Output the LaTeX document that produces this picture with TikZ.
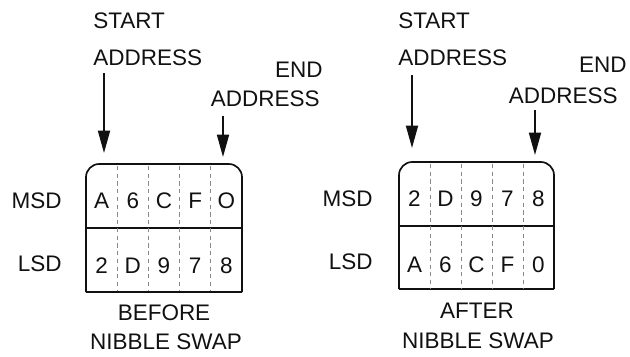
\documentclass[tikz,border=0pt]{standalone}
\usepackage{fontspec}
\setmainfont{Liberation Sans}
\usetikzlibrary{arrows.meta}
\definecolor{ink}{HTML}{111111}
\definecolor{faint}{HTML}{8A8A8A}

\begin{document}
\begin{tikzpicture}[x=0.25mm, y=-0.25mm,
    every node/.style={font=\fontsize{16}{19}\selectfont, text=ink, inner sep=0pt},
    boxline/.style={ink, line width=1.2pt},
    divider/.style={faint, line width=0.45pt, dash pattern=on 3pt off 2.5pt},
    addr/.style={ink, line width=1.3pt, -{Triangle[length=5.6mm, width=3mm]}}]
  \useasboundingbox (0,0) rectangle (630,356);

  % before: labels
  \node[anchor=base west] (bstart) at (93,28) {START};
  \node[anchor=base west] (bstartaddr) at (93,65) {ADDRESS};
  \node[anchor=base east] (bend) at (323,77) {END};
  \node[anchor=base east] (bendaddr) at (320,106) {ADDRESS};
  \coordinate (bs0) at (104,73);  \coordinate (bs1) at (104,153);
  \coordinate (be0) at (223,116); \coordinate (be1) at (223,157);
  \draw[addr] (bs0) -- (bs1);
  \draw[addr] (be0) -- (be1);
  \node[anchor=base east] (bmsd) at (62,208) {MSD};
  \node[anchor=base east] (blsd) at (62,271) {LSD};
  % before: box
  \draw[boxline, rounded corners=3.3mm] (86,292) -- (86,164) -- (242,164) -- (242,292);
  \draw[boxline] (86,292) -- (242,292);
  \draw[boxline] (86,228) -- (242,228);
  \foreach \k in {1,...,4}
    \draw[divider] ({86+31.2*\k},166) -- ({86+31.2*\k},291);
  \foreach \d [count=\i] in {A,6,C,F,O}
    \node[anchor=base] (bm\i) at ({86+31.2*\i-15.6},208) {\d};
  \foreach \d [count=\i] in {2,D,9,7,8}
    \node[anchor=base] (bl\i) at ({86+31.2*\i-15.6},273) {\d};
  \node[anchor=base] (bcap1) at (164,320) {BEFORE};
  \node[anchor=base] (bcap2) at (166,349) {NIBBLE SWAP};

  % after: labels
  \node[anchor=base west] (astart) at (398,28) {START};
  \node[anchor=base west] (astartaddr) at (398,65) {ADDRESS};
  \node[anchor=base east] (aend) at (627,72) {END};
  \node[anchor=base east] (aendaddr) at (618,103) {ADDRESS};
  \coordinate (as0) at (412,75);  \coordinate (as1) at (412,148);
  \coordinate (ae0) at (535,110); \coordinate (ae1) at (535,155);
  \draw[addr] (as0) -- (as1);
  \draw[addr] (ae0) -- (ae1);
  \node[anchor=base east] (amsd) at (373,206) {MSD};
  \node[anchor=base east] (alsd) at (373,269) {LSD};
  % after: box
  \draw[boxline, rounded corners=3.3mm] (399,289) -- (399,162) -- (554,162) -- (554,289);
  \draw[boxline] (399,289) -- (554,289);
  \draw[boxline] (399,226) -- (554,226);
  \foreach \k in {1,...,4}
    \draw[divider] ({399+31*\k},164) -- ({399+31*\k},288);
  \foreach \d [count=\i] in {2,D,9,7,8}
    \node[anchor=base] (am\i) at ({399+31*\i-15.5},206) {\d};
  \foreach \d [count=\i] in {A,6,C,F,0}
    \node[anchor=base] (al\i) at ({399+31*\i-15.5},272) {\d};
  \node[anchor=base] (acap1) at (477,318) {AFTER};
  \node[anchor=base] (acap2) at (478,348) {NIBBLE SWAP};
\end{tikzpicture}
\end{document}
